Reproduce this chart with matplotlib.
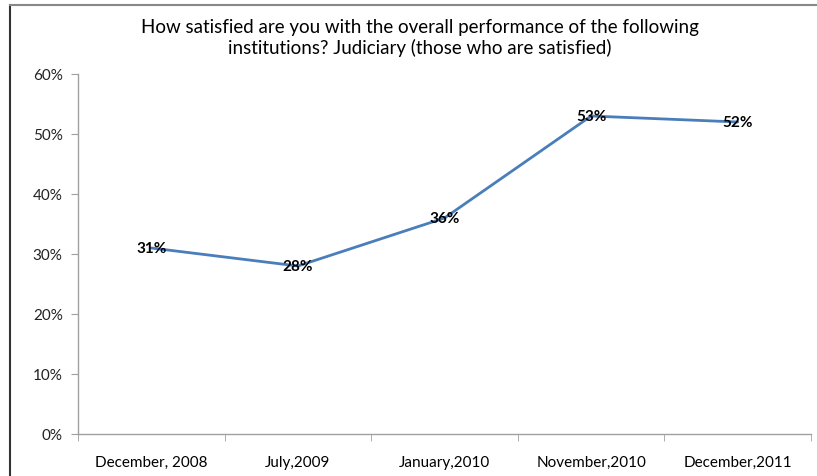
import matplotlib.pyplot as plt
from matplotlib.lines import Line2D

plt.rcParams['font.family'] = ['Lato', 'DejaVu Sans']

periods = ["December, 2008", "July,2009", "January,2010", "November,2010", "December,2011"]
satisfied = [31, 28, 36, 53, 52]
yticks = [0, 10, 20, 30, 40, 50, 60]

fig = plt.figure(figsize=(8.17, 4.77), dpi=100)
ax = fig.add_axes([78 / 817, 42 / 477, 733 / 817, 360 / 477])

x = list(range(len(periods)))
ax.plot(x, satisfied, color='#4A7EBB', linewidth=2.0, solid_capstyle='round')
for xi, v in zip(x, satisfied):
    ax.text(xi, v, f"{v}%", ha='center', va='center', fontsize=11,
            fontweight='bold', color='black')

ax.set_xlim(-0.5, len(periods) - 0.5)
ax.set_ylim(0, 60)
ax.set_yticks(yticks)
ax.set_yticklabels([f"{t}%" for t in yticks])
ax.set_xticks(x)
ax.set_xticklabels(periods)
ax.set_xticks([i - 0.5 for i in range(len(periods) + 1)], minor=True)

ax.tick_params(axis='x', which='major', length=0, pad=15, labelsize=11, colors='black')
ax.tick_params(axis='x', which='minor', length=5, color='#A0A0A0', direction='out')
ax.tick_params(axis='y', length=5, color='#A0A0A0', labelsize=11, labelcolor='#222222', pad=6)

for side in ['top', 'right']:
    ax.spines[side].set_visible(False)
for side in ['left', 'bottom']:
    ax.spines[side].set_color('#A0A0A0')
    ax.spines[side].set_linewidth(1.0)

fig.text(420 / 817, 1 - 28 / 477,
         "How satisfied are you with the overall performance of the following",
         ha='center', va='center', fontsize=13.5)
fig.text(420 / 817, 1 - 48 / 477,
         "institutions? Judiciary (those who are satisfied)",
         ha='center', va='center', fontsize=13.5)

# outer frame pieces
fig.add_artist(Line2D([10 / 817, 10 / 817], [0, 1 - 6 / 477], color='#333333', linewidth=1.5))
fig.add_artist(Line2D([10 / 817, 1], [1 - 6 / 477, 1 - 6 / 477], color='#888888', linewidth=1.5))

fig.savefig('out.png', dpi=100)
